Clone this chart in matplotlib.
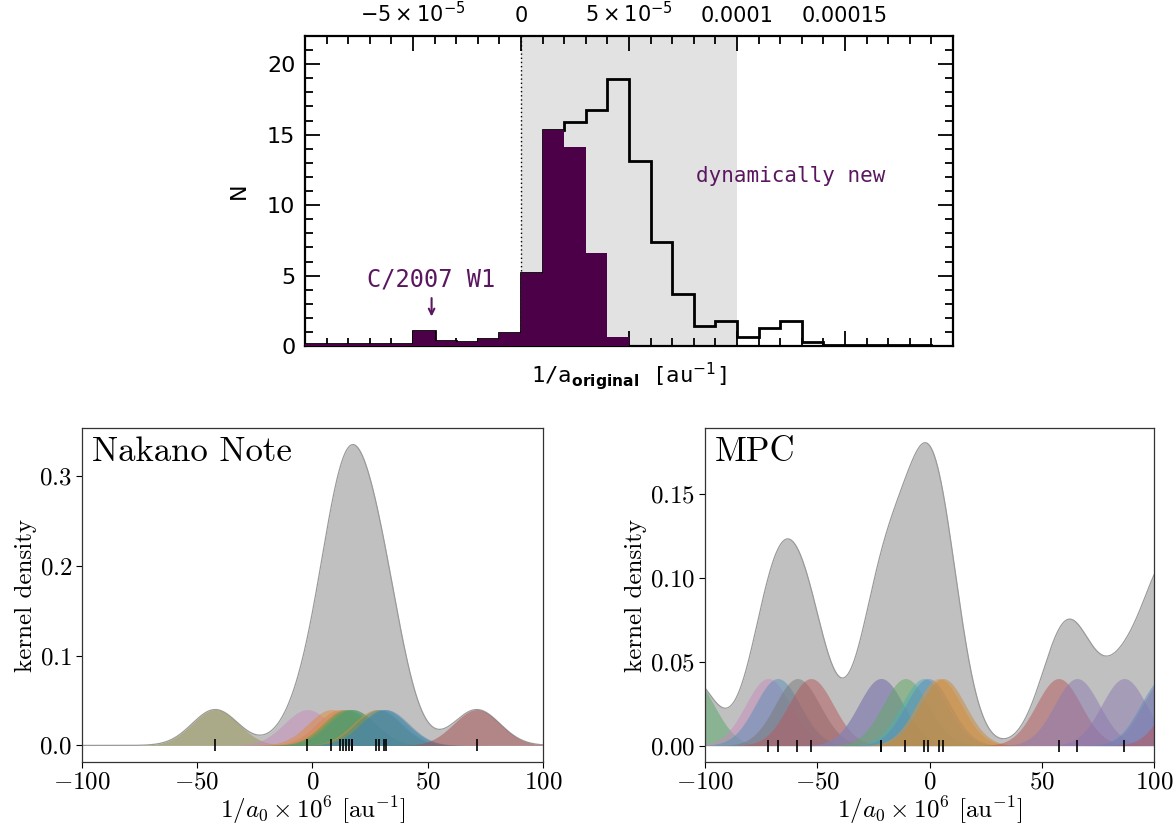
import numpy as np
import matplotlib
matplotlib.use('Agg')
import matplotlib.pyplot as plt
from matplotlib.ticker import MultipleLocator, FixedLocator

plt.rcParams['mathtext.fontset'] = 'cm'
plt.rcParams['font.family'] = 'serif'
plt.rcParams['font.serif'] = ['cmr10']
plt.rcParams['axes.formatter.use_mathtext'] = True

# --- top panel: 1/a original histogram (bins of 1e-5 from -1e-4 to 2e-4)
bin_edges = np.arange(-10, 21) * 1e-5
n_new = [0.12, 0.12, 0.12, 0.12, 0.16, 1.06, 0.35, 0.28, 0.49, 0.94,
         5.2, 15.3, 14.1, 6.6, 0.65, 0, 0, 0, 0, 0,
         0, 0, 0, 0, 0, 0, 0, 0, 0, 0]
n_all = [0.12, 0.12, 0.12, 0.12, 0.16, 1.06, 0.35, 0.28, 0.49, 0.94,
         5.2, 15.3, 15.9, 16.75, 18.95, 13.1, 7.4, 3.7, 1.4, 1.8,
         0.65, 1.25, 1.75, 0.28, 0.1, 0.1, 0.1, 0.1, 0.1, 0.0]
top_ticks = [-5e-5, 0, 5e-5, 1e-4, 1.5e-4]
top_ticklabels = [r'$-5\times10^{-5}$', '0', r'$5\times10^{-5}$', '0.0001', '0.00015']

# --- bottom panels: individual 1/a0 values (x 1e6) with gaussian kernels
nakano_x = [-42.2, -2.2, 8.2, 12.0, 13.3, 14.5, 15.8, 17.3, 17.3, 27.7, 28.8, 31.0, 31.8, 71.3]
nakano_c = ['#989552', '#C78BBD', '#DE8B37', '#D9805F', '#DE9347', '#5E9B58', '#599A6A',
            '#6C9A4E', '#4F9C7E', '#DE8B37', '#3E8F8A', '#3B8CA0', '#4F86AC', '#A54B4F']
mpc_x = [-106, -71.9, -67.6, -58.8, -52.8, -21.6, -21.6, -10.7, -2.5, -0.6, 4.2, 6.0,
         57.5, 65.7, 86.7, 104, 105, 115]
mpc_c = ['#55A868', '#C78BBD', '#5A8DB8', '#7A7A7A', '#B5575B', '#7E78AE', '#8A86B4',
         '#62A862', '#4FB0AE', '#5A8CC0', '#DE9340', '#C98A3A', '#B5575B', '#8C7AB0',
         '#8C7AB0', '#5A8DB8', '#8C7AB0', '#B5575B']
bw = 10.0

purple = '#4b0048'
tpurple = '#5b1660'

fig = plt.figure(figsize=(11.74, 8.24), dpi=100)

# ---------------- top histogram
ax = fig.add_axes([0.2598, 0.580, 0.5520, 0.3763])
ax.axvspan(0, 1e-4, color='#e2e2e2', lw=0, zorder=0)
ax.axvline(0, color='k', ls=(0, (1, 2)), lw=1.0, zorder=1)
ax.stairs(n_all, bin_edges, color='k', lw=2.0, zorder=2)
ax.stairs(n_new, bin_edges, fill=True, color=purple, lw=0, zorder=3)
ax.set_xlim(-1e-4, 2e-4)
ax.set_ylim(0, 22)
for s in ax.spines.values():
    s.set_linewidth(1.6)
ax.xaxis.set_major_locator(FixedLocator(top_ticks))
ax.xaxis.set_minor_locator(MultipleLocator(1e-5))
ax.yaxis.set_major_locator(MultipleLocator(5))
ax.yaxis.set_minor_locator(MultipleLocator(1))
ax.tick_params(which='both', direction='in', top=True, bottom=True, left=True, right=True,
               labeltop=True, labelbottom=False, width=1.3)
ax.tick_params(which='major', length=11, pad=7)
ax.tick_params(which='minor', length=6)
ax.set_xticklabels(top_ticklabels, family='DejaVu Sans', math_fontfamily='dejavusans', fontsize=15)
ax.set_yticklabels([str(int(v)) for v in ax.get_yticks()], family='DejaVu Sans', fontsize=16)
ax.set_ylabel('N', family='DejaVu Sans', fontsize=16, labelpad=13)
ax.set_xlabel(r'1/a$_{\mathbf{original}}$ [au$^{-1}$]', family='DejaVu Sans Mono',
              math_fontfamily='dejavusans', fontsize=16, labelpad=10)
ax.text(1.25e-4, 12.1, 'dynamically new', color=tpurple, family='DejaVu Sans Mono',
        fontsize=15, ha='center', va='center')
ax.text(-4.14e-5, 4.75, 'C/2007 W1', color=tpurple, family='DejaVu Sans Mono',
        fontsize=17, ha='center', va='center')
ax.annotate('', xy=(-4.14e-5, 1.9), xytext=(-4.14e-5, 3.6),
            arrowprops=dict(arrowstyle='->', color=tpurple, lw=1.5))


# ---------------- bottom kernel density panels
def kde_panel(rect, xs_data, colors, label, ylim, yticks):
    axk = fig.add_axes(rect)
    grid = np.linspace(-100, 100, 1001)
    kernels = [np.exp(-0.5 * ((grid - x0) / bw) ** 2) / (bw * np.sqrt(2 * np.pi)) for x0 in xs_data]
    total = np.sum(kernels, axis=0)
    axk.fill_between(grid, 0, total, color='#c0c0c0', lw=0, zorder=1)
    axk.plot(grid, total, color='#9a9a9a', lw=0.9, zorder=1)
    for k, c in zip(kernels, colors):
        axk.fill_between(grid, 0, k, color=c, alpha=0.5, lw=0, zorder=2)
    axk.plot(xs_data, np.zeros(len(xs_data)), '|', color='k', ms=8, mew=1.2, zorder=3)
    axk.set_xlim(-100, 100)
    axk.set_ylim(*ylim)
    axk.set_yticks(yticks)
    axk.set_xticks([-100, -50, 0, 50, 100])
    axk.tick_params(direction='out', length=4, width=0.8, labelsize=18, pad=3)
    for s in axk.spines.values():
        s.set_linewidth(0.9)
        s.set_color('#333333')
    axk.set_xlabel(r'$1/a_0 \times 10^6$ [au$^{-1}$]', fontsize=18, labelpad=0)
    axk.set_ylabel('kernel density', fontsize=18, labelpad=2)
    axk.text(0.022, 0.975, label, transform=axk.transAxes, fontsize=25, va='top', ha='left')
    return axk


kde_panel([0.0698, 0.0752, 0.3927, 0.4054], nakano_x, nakano_c, 'Nakano Note',
          (-0.0185, 0.3533), [0.0, 0.1, 0.2, 0.3])
kde_panel([0.6005, 0.0752, 0.3825, 0.4054], mpc_x, mpc_c, 'MPC',
          (-0.0098, 0.189), [0.0, 0.05, 0.10, 0.15])

fig.savefig('out.png', dpi=100)
